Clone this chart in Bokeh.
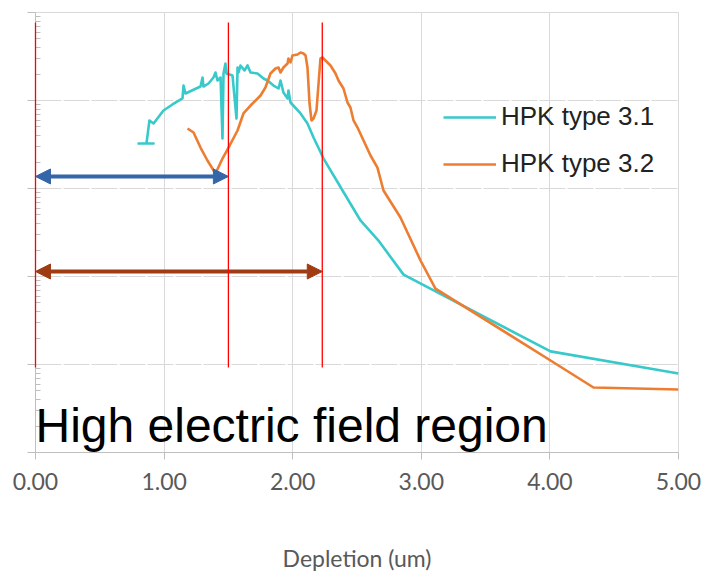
from bokeh.plotting import figure
from bokeh.models import (Range1d, FixedTicker, Legend, LegendItem, Label, Arrow,
                          NormalHead, CustomJSTickFormatter, ColumnDataSource)
from bokeh.embed import file_html
from bokeh.resources import INLINE

# ---------------- data ----------------
depletion_31 = [0.793, 0.918, 0.863, 0.886, 0.918, 0.995, 1.065, 1.143, 1.151, 1.166,
                1.283, 1.299, 1.306, 1.345, 1.384, 1.400, 1.415, 1.439, 1.454, 1.462,
                1.477, 1.485, 1.532, 1.563, 1.571, 1.579, 1.594, 1.625, 1.649, 1.672,
                1.726, 1.773, 1.804, 1.851, 1.890, 1.905, 1.928, 1.960, 1.967, 1.983,
                2.061, 2.115, 2.162, 2.240, 2.411, 2.527, 2.667, 2.862, 4.005, 5.000]
signal_31 = [3250, 3250, 3250, 5930, 5480, 7700, 9010, 10540, 14800, 12020,
             14420, 18250, 14420, 15600, 18250, 20800, 16870, 18250, 3700, 20270,
             26300, 20270, 19230, 6240, 23710, 20800, 25000, 21930, 25000, 20800,
             20270, 17780, 16870, 14800, 13690, 16870, 12330, 10540, 13000, 9490,
             7120, 5480, 3800, 2190, 832, 433, 256, 105, 14.1, 7.9]

depletion_32 = [1.182, 1.229, 1.283, 1.337, 1.400, 1.454, 1.501, 1.571, 1.617, 1.672,
                1.750, 1.788, 1.827, 1.866, 1.890, 1.905, 1.928, 1.960, 1.967, 1.983,
                1.998, 2.037, 2.061, 2.084, 2.100, 2.115, 2.131, 2.146, 2.162, 2.185,
                2.201, 2.216, 2.232, 2.255, 2.294, 2.333, 2.356, 2.395, 2.426, 2.449,
                2.473, 2.504, 2.551, 2.605, 2.659, 2.706, 2.838, 2.994, 3.110, 4.005,
                4.339, 5.000]
signal_32 = [4810, 4330, 2920, 2080, 1480, 2190, 2920, 4560, 7120, 8770,
             11400, 14060, 20270, 23100, 23710, 20800, 23710, 26300, 30000, 27040,
             32460, 33340, 35100, 34200, 32460, 23710, 9250, 5930, 6240, 7700,
             15600, 30000, 30830, 28500, 25000, 20270, 16870, 13690, 9490, 8320,
             5930, 4930, 3510, 2370, 1730, 949, 468, 152, 73, 11.1,
             5.48, 5.2]

series_names = ["HPK type 3.1", "HPK type 3.2"]
x_ticks = [0, 1, 2, 3, 4, 5]
x_tick_labels = ["0.00", "1.00", "2.00", "3.00", "4.00", "5.00"]
y_decades = [1, 10, 100, 1000, 10000, 100000]

# marker lines and arrows (depletion positions)
marker_depths = [0.0, 1.50, 2.23]
marker_top = 76900
marker_bottom = 9.25
blue_arrow = (0.0, 1.50, 1370)
brown_arrow = (0.0, 2.23, 114)

# ---------------- figure ----------------
GRID = "#D9D9D9"
AXIS = "#BFBFBF"
TXT = "#595959"
CYAN = "#38C9CB"
ORANGE = "#ED7D31"

p = figure(width=705, height=574, x_range=Range1d(0, 5), y_range=Range1d(1, 1e5),
           y_axis_type="log", output_backend="svg", toolbar_location=None,
           min_border_left=35, min_border_right=27, min_border_top=12,
           min_border_bottom=122)
p.outline_line_color = GRID
p.background_fill_color = "white"
p.border_fill_color = "white"

# x axis
p.xaxis.ticker = FixedTicker(ticks=x_ticks)
p.xaxis.major_label_overrides = {t: l for t, l in zip(x_ticks, x_tick_labels)}
p.xaxis.axis_label = "Depletion (um)"
p.xaxis.axis_label_text_font = "Lato"
p.xaxis.axis_label_text_font_size = "23px"
p.xaxis.axis_label_text_font_style = "normal"
p.xaxis.axis_label_text_color = TXT
p.xaxis.axis_label_standoff = 51
p.xaxis.major_label_text_font = "Lato"
p.xaxis.major_label_text_font_size = "23px"
p.xaxis.major_label_text_color = TXT
p.xaxis.major_label_standoff = 13
p.xaxis.axis_line_color = AXIS
p.xaxis.major_tick_line_color = AXIS
p.xaxis.major_tick_out = 7
p.xaxis.major_tick_in = 0
p.xaxis.minor_tick_line_color = None

# y axis (log, no labels)
minor = [k * d for d in y_decades[:-1] for k in range(2, 10)]
p.yaxis.ticker = FixedTicker(ticks=y_decades, minor_ticks=minor)
p.yaxis.formatter = CustomJSTickFormatter(code="return ''")
p.yaxis.axis_line_color = AXIS
p.yaxis.major_tick_line_color = AXIS
p.yaxis.minor_tick_line_color = AXIS
p.yaxis.major_tick_out = 8
p.yaxis.major_tick_in = 0
p.yaxis.minor_tick_in = 5
p.yaxis.minor_tick_out = 0

p.xgrid.grid_line_color = GRID
p.ygrid.grid_line_color = GRID
p.ygrid.grid_line_dash = "26 2"

# marker lines
p.segment(x0=marker_depths, y0=[marker_bottom] * 3, x1=marker_depths,
          y1=[marker_top] * 3, line_color="#FF0000", line_width=1.3,
          level="overlay")

# curves
s31 = ColumnDataSource(dict(x=depletion_31, y=signal_31))
s32 = ColumnDataSource(dict(x=depletion_32, y=signal_32))
r31 = p.line("x", "y", source=s31, line_color=CYAN, line_width=2.6, line_join="round")
r32 = p.line("x", "y", source=s32, line_color=ORANGE, line_width=2.6, line_join="round")

# arrows
for (xa, xb, ya), col in [(blue_arrow, "#3466A8"), (brown_arrow, "#A03C14")]:
    p.add_layout(Arrow(x_start=xa, x_end=xb, y_start=ya, y_end=ya,
                       line_color=col, line_width=4,
                       start=NormalHead(size=15, fill_color=col, line_color=col, line_width=1),
                       end=NormalHead(size=15, fill_color=col, line_color=col, line_width=1)))

# big label
p.add_layout(Label(x=0, y=2.05, text="High electric field region",
                   text_font="Liberation Sans", text_font_size="48px",
                   text_color="#000000", text_baseline="alphabetic"))

legend = Legend(items=[LegendItem(label=series_names[0], renderers=[r31]),
                       LegendItem(label=series_names[1], renderers=[r32])],
                location=(408, 273), border_line_color=None,
                background_fill_alpha=0, padding=0, margin=0, spacing=16,
                glyph_width=53, glyph_height=26, label_height=26,
                label_standoff=5, label_text_font="Liberation Sans",
                label_text_font_size="26px", label_text_color="#222222")
p.add_layout(legend)

open("out.html", "w").write(file_html(p, INLINE))
